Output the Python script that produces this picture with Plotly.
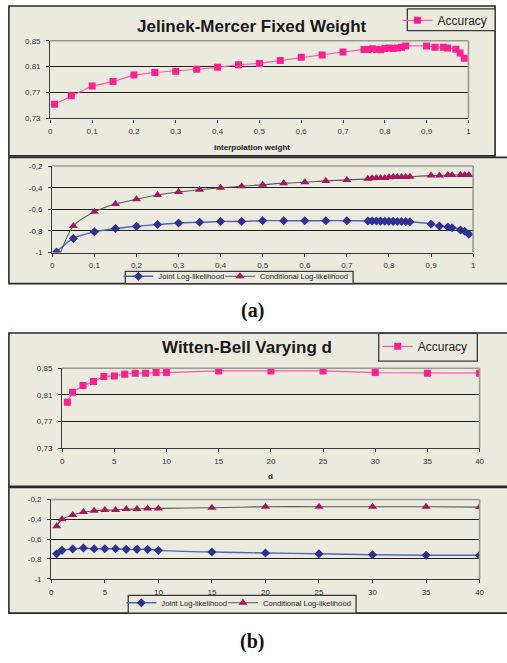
import plotly.graph_objects as go

# ---------------- data ----------------
jm_weight = [0.01, 0.05, 0.1, 0.15, 0.2, 0.25, 0.3, 0.35, 0.4, 0.45, 0.5, 0.55, 0.6, 0.65, 0.7,
             0.75, 0.76, 0.77, 0.78, 0.79, 0.8, 0.81, 0.82, 0.83, 0.84, 0.85,
             0.9, 0.92, 0.94, 0.95, 0.97, 0.98, 0.99]
jm_accuracy = [0.752, 0.765, 0.780, 0.787, 0.797, 0.801, 0.803, 0.806, 0.809, 0.813, 0.815, 0.8195,
               0.8246, 0.828, 0.8327, 0.8367, 0.8367, 0.8377, 0.8367, 0.836, 0.838, 0.839, 0.838,
               0.839, 0.840, 0.842, 0.842, 0.840, 0.840, 0.839, 0.837, 0.831, 0.823]
jm_joint = [-0.994, -0.869, -0.808, -0.778, -0.757, -0.741, -0.726, -0.72, -0.712, -0.712, -0.705,
            -0.705, -0.705, -0.705, -0.705, -0.708, -0.708, -0.708, -0.709, -0.71, -0.711, -0.711,
            -0.712, -0.712, -0.714, -0.715, -0.736, -0.755, -0.764, -0.77, -0.791, -0.803, -0.83]
jm_conditional = [-1.1, -0.754, -0.623, -0.55, -0.507, -0.468, -0.44, -0.419, -0.40, -0.386, -0.373,
                  -0.358, -0.35, -0.337, -0.328, -0.318, -0.312, -0.31, -0.31, -0.31, -0.303, -0.302,
                  -0.3, -0.3, -0.3, -0.298, -0.288, -0.287, -0.282, -0.282, -0.282, -0.282, -0.283]

wb_d = [0.5, 1, 2, 3, 4, 5, 6, 7, 8, 9, 10, 15, 20, 25, 30, 35, 40]
wb_accuracy = [0.799, 0.814, 0.824, 0.830, 0.8377, 0.8386, 0.841, 0.8426, 0.8426, 0.8436, 0.8436,
               0.846, 0.846, 0.846, 0.8436, 0.8426, 0.8426]
wb_joint = [-0.747, -0.713, -0.70, -0.69, -0.697, -0.697, -0.697, -0.703, -0.703, -0.703, -0.713,
            -0.73, -0.74, -0.747, -0.757, -0.763, -0.763]
wb_conditional = [-0.47, -0.40, -0.357, -0.327, -0.313, -0.307, -0.307, -0.297, -0.297, -0.29, -0.29,
                  -0.283, -0.273, -0.273, -0.273, -0.273, -0.277]

jm_xticks = [0, 0.1, 0.2, 0.3, 0.4, 0.5, 0.6, 0.7, 0.8, 0.9, 1]
jm_xlabels = ["0", "0,1", "0,2", "0,3", "0,4", "0,5", "0,6", "0,7", "0,8", "0,9", "1"]
wb_xticks = [0, 5, 10, 15, 20, 25, 30, 35, 40]
wb_xlabels = ["0", "5", "10", "15", "20", "25", "30", "35", "40"]
acc_yticks = [0.73, 0.77, 0.81, 0.85]
acc_ylabels = ["0,73", "0,77", "0,81", "0,85"]
ll_yticks = [-1, -0.8, -0.6, -0.4, -0.2]
ll_ylabels = ["-1", "-0,8", "-0,6", "-0,4", "-0,2"]

# ---------------- layout helpers ----------------
W, H = 507, 663
def PX(x): return x / W
def PY(y): return 1 - y / H

BG = "#EBEADF"
FONT = "Liberation Sans, Arial, sans-serif"
PINK = "#FF1F8E"
PINK_LINE = "#FF5AA8"
BLUE = "#2E3192"
BLUE_LINE = "#5862B4"
MAROON = "#A3195B"
GRAY_LINE = "#5A5A50"

fig = go.Figure()

# accuracy (a)
fig.add_trace(go.Scatter(x=jm_weight, y=jm_accuracy, name="Accuracy", mode="lines+markers",
                         xaxis="x", yaxis="y", legend="legend",
                         line=dict(color=PINK_LINE, width=1.2),
                         marker=dict(symbol="square", size=7, color=PINK)))
# log-likelihood (a)
fig.add_trace(go.Scatter(x=jm_weight, y=jm_joint, name="Joint Log-likelihood", mode="lines+markers",
                         xaxis="x2", yaxis="y2", legend="legend2",
                         line=dict(color=BLUE_LINE, width=1.4, shape="spline", smoothing=0.8),
                         marker=dict(symbol="diamond", size=7, color=BLUE)))
fig.add_trace(go.Scatter(x=jm_weight, y=jm_conditional, name="Conditional Log-likelihood",
                         mode="lines+markers", xaxis="x2", yaxis="y2", legend="legend5",
                         line=dict(color=GRAY_LINE, width=1.1, shape="spline", smoothing=0.8),
                         marker=dict(symbol="triangle-up", size=8, color=MAROON)))
# accuracy (b)
fig.add_trace(go.Scatter(x=wb_d, y=wb_accuracy, name="Accuracy", mode="lines+markers",
                         xaxis="x3", yaxis="y3", legend="legend3",
                         line=dict(color=PINK_LINE, width=1.2),
                         marker=dict(symbol="square", size=7, color=PINK)))
# log-likelihood (b)
fig.add_trace(go.Scatter(x=wb_d, y=wb_joint, name="Joint Log-likelihood", mode="lines+markers",
                         xaxis="x4", yaxis="y4", legend="legend4",
                         line=dict(color=BLUE_LINE, width=1.4, shape="spline", smoothing=0.8),
                         marker=dict(symbol="diamond", size=7, color=BLUE)))
fig.add_trace(go.Scatter(x=wb_d, y=wb_conditional, name="Conditional Log-likelihood",
                         mode="lines+markers", xaxis="x4", yaxis="y4", legend="legend6",
                         line=dict(color=GRAY_LINE, width=1.1, shape="spline", smoothing=0.8),
                         marker=dict(symbol="triangle-up", size=8, color=MAROON)))

tickfont = dict(family=FONT, size=8, color="#333333")

def xax(domain, rng, tv, tt, anchor):
    return dict(domain=domain, range=rng, tickvals=tv, ticktext=tt, anchor=anchor,
                showgrid=False, zeroline=False, showline=True, linecolor="#3a3a3a", linewidth=1.3,
                ticks="outside", ticklen=3, tickcolor="#3a3a3a", tickwidth=1,
                tickfont=tickfont, ticklabelstandoff=2, fixedrange=True)

def yax(domain, rng, tv, tt, anchor):
    return dict(domain=domain, range=rng, tickvals=tv, ticktext=tt, anchor=anchor,
                showgrid=True, gridcolor="#1e1e1e", gridwidth=1.3, zeroline=False,
                showline=True, linecolor="#3a3a3a", linewidth=1.3,
                ticks="outside", ticklen=3, tickcolor="#3a3a3a", tickwidth=1,
                tickfont=tickfont, ticklabelstandoff=4, fixedrange=True)

shapes = []
# panel boxes
for (x0, y0, x1, y1) in [(7, 2, 500, 154), (7, 155.5, 515, 283.5), (7, 333.5, 515, 489), (7, 490, 515, 617.5)]:
    shapes.append(dict(type="rect", xref="paper", yref="paper", x0=PX(x0), x1=PX(x1),
                       y0=PY(y1), y1=PY(y0), fillcolor=BG, line=dict(color="#2a2a2a", width=1.6),
                       layer="below"))
# legend boxes
for (x0, y0, x1, y1) in [(411, 5, 500, 27), (125, 271, 356, 283.5), (382, 334, 482, 362), (128, 599.5, 359, 617.5)]:
    shapes.append(dict(type="rect", xref="paper", yref="paper", x0=PX(x0), x1=PX(x1),
                       y0=PY(y1), y1=PY(y0), fillcolor=BG, line=dict(color="#3a3a3a", width=1.3),
                       layer="below"))
# grey plot-area border (top and right edges)
for ax in ["", "2", "3", "4"]:
    shapes.append(dict(type="line", xref=f"x{ax} domain", yref=f"y{ax} domain", x0=0, x1=1, y0=1, y1=1,
                       line=dict(color="#9a9a92", width=1.6), layer="above"))
    shapes.append(dict(type="line", xref=f"x{ax} domain", yref=f"y{ax} domain", x0=1, x1=1, y0=0, y1=1,
                       line=dict(color="#9a9a92", width=1.6), layer="above"))

annotations = [
    dict(text="<b>Jelinek-Mercer Fixed Weight</b>", x=PX(253.5), y=PY(23), xref="paper", yref="paper",
         showarrow=False, xanchor="center", yanchor="middle",
         font=dict(family=FONT, size=17, color="#1a1a1a")),
    dict(text="<b>interpolation weight</b>", x=PX(253), y=PY(145), xref="paper", yref="paper",
         showarrow=False, xanchor="center", yanchor="middle",
         font=dict(family=FONT, size=8, color="#1a1a1a")),
    dict(text="<b>Witten-Bell Varying d</b>", x=PX(248.5), y=PY(348), xref="paper", yref="paper",
         showarrow=False, xanchor="center", yanchor="middle",
         font=dict(family=FONT, size=17, color="#1a1a1a")),
    dict(text="<b>d</b>", x=PX(272), y=PY(479), xref="paper", yref="paper",
         showarrow=False, xanchor="center", yanchor="middle",
         font=dict(family=FONT, size=8, color="#1a1a1a")),
    dict(text="<b>(a)</b>", x=PX(254), y=PY(311), xref="paper", yref="paper",
         showarrow=False, xanchor="center", yanchor="middle",
         font=dict(family="Liberation Serif, Times New Roman, serif", size=20, color="#111111")),
    dict(text="<b>(b)</b>", x=PX(254), y=PY(646), xref="paper", yref="paper",
         showarrow=False, xanchor="center", yanchor="middle",
         font=dict(family="Liberation Serif, Times New Roman, serif", size=20, color="#111111")),
]

def leg(x, y, size):
    return dict(x=PX(x), y=PY(y), xanchor="left", yanchor="middle", orientation="h",
                bgcolor="rgba(0,0,0,0)", borderwidth=0,
                font=dict(family=FONT, size=size, color="#222222"),
                itemclick=False, itemdoubleclick=False, tracegroupgap=0)

fig.update_layout(
    width=W, height=H, margin=dict(l=0, r=0, t=0, b=0),
    paper_bgcolor="white", plot_bgcolor="rgba(0,0,0,0)",
    showlegend=True,
    xaxis=xax([PX(49), PX(473)], [0, 1], jm_xticks, jm_xlabels, "y"),
    yaxis=yax([PY(116), PY(37.3)], [0.73, 0.85], acc_yticks, acc_ylabels, "x"),
    xaxis2=xax([PX(51), PX(477.7)], [0, 1], jm_xticks, jm_xlabels, "y2"),
    yaxis2=yax([PY(252), PY(164.3)], [-1, -0.2], ll_yticks, ll_ylabels, "x2"),
    xaxis3=xax([PX(61), PX(484.3)], [0, 40], wb_xticks, wb_xlabels, "y3"),
    yaxis3=yax([PY(450.3), PY(369.3)], [0.73, 0.85], acc_yticks, acc_ylabels, "x3"),
    xaxis4=xax([PX(50), PX(484.3)], [0, 40], wb_xticks, wb_xlabels, "y4"),
    yaxis4=yax([PY(582.7), PY(502.3)], [-1, -0.2], ll_yticks, ll_ylabels, "x4"),
    legend=leg(401, 16.5, 12),
    legend2=leg(118, 276, 7.7),
    legend5=leg(221, 276, 7.7),
    legend3=leg(381, 347, 12),
    legend4=leg(121, 607, 7.7),
    legend6=leg(224, 607, 7.7),
    shapes=shapes,
    annotations=annotations,
)

fig.write_html("out.html", config={"displayModeBar": False},
               post_script="document.body.style.margin='0';document.body.style.padding='0';")
